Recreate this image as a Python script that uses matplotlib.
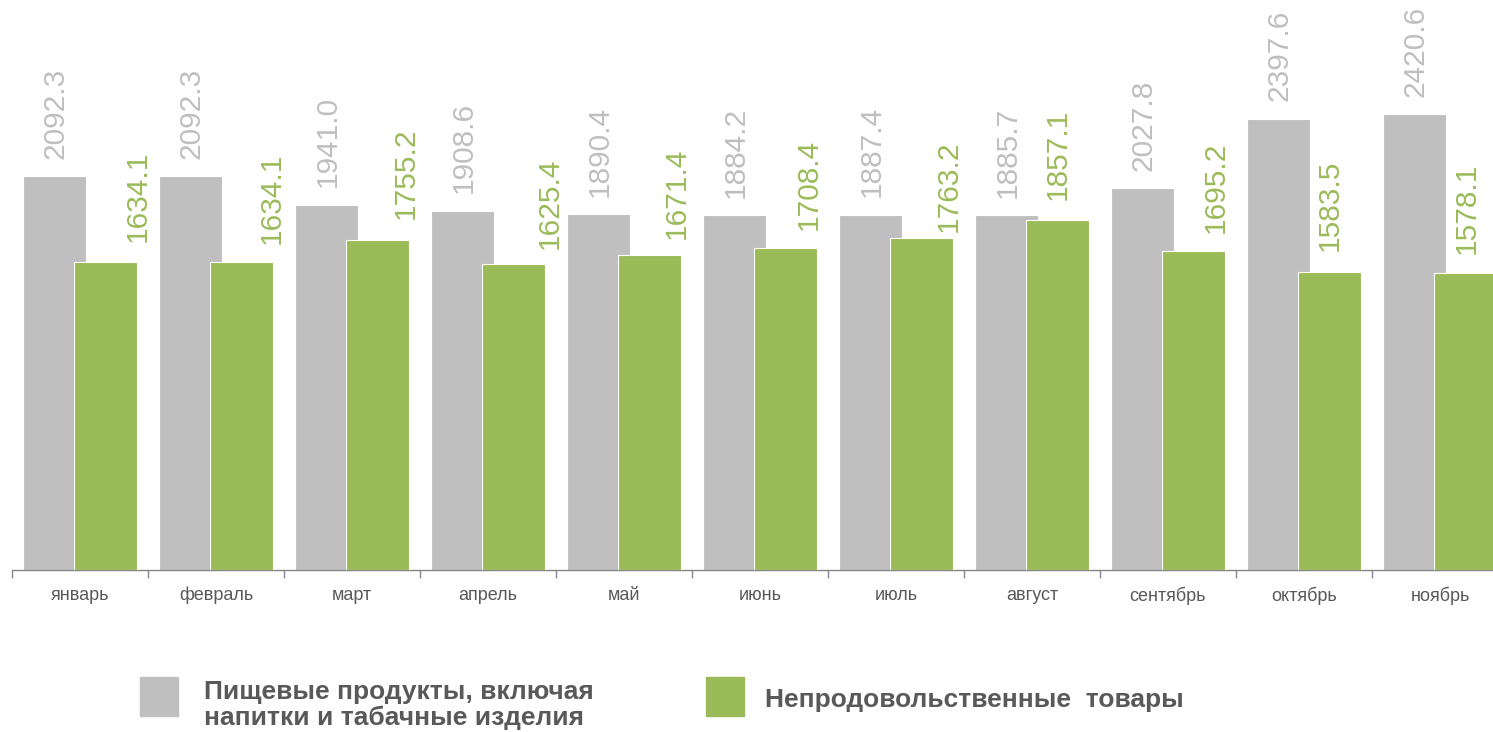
import matplotlib.pyplot as plt
from matplotlib.patches import Rectangle
import numpy as np

plt.rcParams['font.family'] = ['Liberation Sans', 'DejaVu Sans']

# Data
months = ["январь", "февраль", "март", "апрель", "май", "июнь",
          "июль", "август", "сентябрь", "октябрь", "ноябрь"]
food = [2092.3, 2092.3, 1941.0, 1908.6, 1890.4, 1884.2, 1887.4, 1885.7, 2027.8, 2397.6, 2420.6]
nonfood = [1634.1, 1634.1, 1755.2, 1625.4, 1671.4, 1708.4, 1763.2, 1857.1, 1695.2, 1583.5, 1578.1]
food_label = "Пищевые продукты, включая\nнапитки и табачные изделия"
nonfood_label = "Непродовольственные  товары"

# label placement tweaks for the green values (pixels: sideways shift, gap above bar)
green_dx = [33, 31, 29, 37, 28, 24, 28, 1, 23, 1, 2]
green_gap = [22, 20, 22, 17, 18, 20, 8, 22, 19, 22, 20]

gray = '#BFBFBF'
green = '#9BBB59'
text_col = '#595959'

fig = plt.figure(figsize=(14.93, 7.32), dpi=100)
ax = fig.add_axes([12 / 1493, 162 / 732, 1496 / 1493, 527 / 732])

x = np.arange(len(months))
w = 0.465
off = 0.185
px = 0.72  # points per pixel at dpi 100

ax.bar(x - off, food, w, color=gray, edgecolor='white', linewidth=0.8, zorder=2)
ax.bar(x + off, nonfood, w, color=green, edgecolor='white', linewidth=0.8, zorder=3)

# Value labels
for i in range(len(months)):
    ax.annotate(f"{food[i]:.1f}", (x[i] - off, food[i]), xytext=(1 * px, 17.5 * px),
                textcoords='offset points', rotation=90, ha='center', va='bottom',
                fontsize=21.5, color=gray)
    ax.annotate(f"{nonfood[i]:.1f}", (x[i] + off, nonfood[i]),
                xytext=(green_dx[i] * px, (green_gap[i] - 1.5) * px),
                textcoords='offset points', rotation=90, ha='center', va='bottom',
                fontsize=21.5, color=green)

ax.set_xlim(-0.5, len(months) - 0.5)
ax.set_ylim(0, 2800)
ax.set_yticks([])
for s in ['left', 'right', 'top']:
    ax.spines[s].set_visible(False)
ax.spines['bottom'].set_color('#868686')
ax.spines['bottom'].set_linewidth(1.0)

ax.set_xticks(x)
ax.set_xticklabels(months, fontsize=13, color=text_col)
ax.tick_params(axis='x', which='major', length=0, pad=12)
ax.set_xticks(np.arange(-0.5, len(months)), minor=True)
ax.tick_params(axis='x', which='minor', length=6, color='#868686', width=1.0)

# Legend
fig.patches.append(Rectangle((140 / 1493, 1 - 716 / 732), 38 / 1493, 39 / 732,
                             transform=fig.transFigure, color=gray))
fig.text(204 / 1493, 1 - 705 / 732, food_label, fontsize=19, fontweight='bold',
         color=text_col, va='center', ha='left', linespacing=1.1)
fig.patches.append(Rectangle((706 / 1493, 1 - 716 / 732), 38 / 1493, 39 / 732,
                             transform=fig.transFigure, color=green))
fig.text(765 / 1493, 1 - 700 / 732, nonfood_label, fontsize=19, fontweight='bold',
         color=text_col, va='center', ha='left')

fig.savefig('out.png', dpi=100)
